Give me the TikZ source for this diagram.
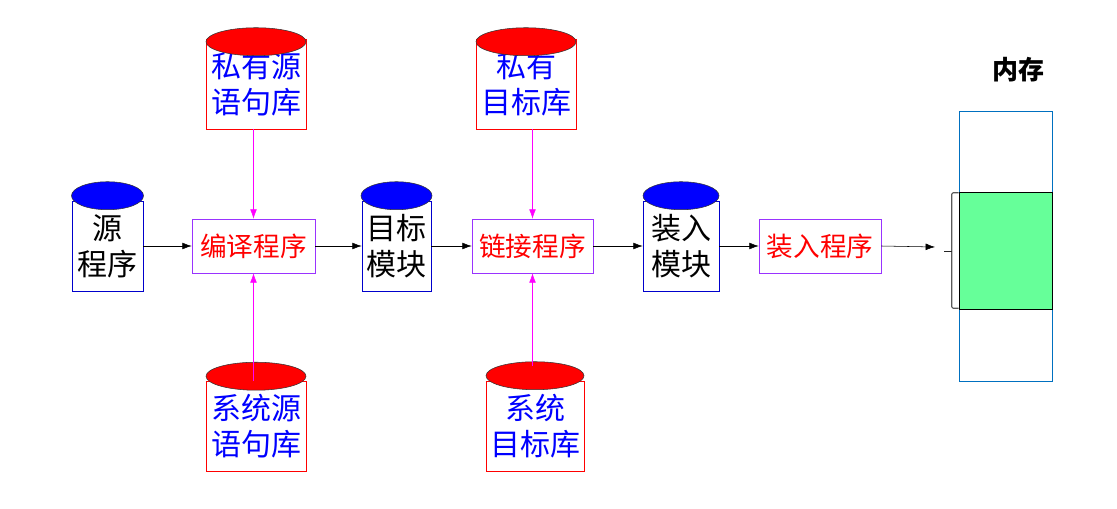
\documentclass[tikz,border=0pt]{standalone}
\usepackage{fontspec}
\setmainfont{Noto Sans CJK SC}
\usetikzlibrary{arrows.meta,calc}
\definecolor{progedge}{HTML}{9933FF}
\definecolor{memedge}{HTML}{0070C0}
\definecolor{memfill}{HTML}{66FF99}
\definecolor{feedpink}{HTML}{FF00FF}
\def\u{0.75pt}
\tikzset{
  drum/.style={draw,minimum height=90*\u,inner sep=0pt,align=center,font=\fontsize{22.5}{27}\selectfont},
  srcdrum/.style={drum,draw=blue!80!black},
  libdrum/.style={drum,draw=red,text=blue},
  progbox/.style={draw=progedge,text=red,minimum height=54*\u,inner sep=0pt,font=\fontsize{20}{24}\selectfont},
  flow/.style={-{Latex[length=7pt,width=5pt]}},
  feed/.style={feedpink,-{Latex[length=7pt,width=5pt]}}
}
\begin{document}
\begin{tikzpicture}[x=\u,y=-\u]
\newcommand{\drumtop}[4]{\draw[#3,draw=gray!40!black,thin] ($(#1.north)+(0,#4)$) ellipse[x radius=#2*\u,y radius=14*\u];}
\useasboundingbox (0,0) rectangle (1117,509);
% main line
\node[srcdrum,minimum width=71*\u] (src) at (107.5,246) {源\\程序};
\node[progbox,minimum width=123*\u] (comp) at (253.5,246) {编译程序};
\node[srcdrum,minimum width=69*\u] (obj) at (396.5,246) {目标\\模块};
\node[progbox,minimum width=121*\u] (lnk) at (532.5,246) {链接程序};
\node[srcdrum,minimum width=76*\u] (ldm) at (681,246) {装入\\模块};
\node[progbox,minimum width=122*\u] (ldr) at (820,246) {装入程序};
\drumtop{src}{36}{fill=blue}{-5}\drumtop{obj}{35.5}{fill=blue}{-5}\drumtop{ldm}{38}{fill=blue}{-5}
% libraries
\node[libdrum,minimum width=100*\u] (privsrc) at (256,84) {私有源\\语句库};
\node[libdrum,minimum width=100*\u] (privobj) at (526,84) {私有\\目标库};
\node[libdrum,minimum width=100*\u] (syssrc) at (256,426.5) {系统源\\语句库};
\node[libdrum,minimum width=98*\u] (sysobj) at (535,426) {系统\\目标库};
\drumtop{privsrc}{50}{fill=red}{3}\drumtop{privobj}{50}{fill=red}{3}\drumtop{syssrc}{50}{fill=red}{-5}\drumtop{sysobj}{49}{fill=red}{-5}
% memory
\node[draw=memedge,minimum width=93*\u,minimum height=270*\u,inner sep=0pt] (mem) at (1005.5,246) {};
\node[draw,fill=memfill,minimum width=93*\u,minimum height=117*\u,inner sep=0pt] (part) at (1005.5,250.5) {};
\node[font=\fontsize{19.5}{22}\selectfont\bfseries] (memlbl) at (1018,70) {内存};
\draw[gray!70!black,thick,rounded corners=1pt] ($(part.north west)+(0,1)$) -- ++(-7,0) -- ($(part.south west)+(-7,-1)$) -- ++(7,0);
\coordinate (tick) at ($(part.west)+(-7,1)$);
\draw[gray!30!black,thick] (tick) -- ++(-8,0);
\coordinate (memin) at (935,247);
% connectors
\draw[flow] (src) -- (comp);\draw[flow] (comp) -- (obj);\draw[flow] (obj) -- (lnk);
\draw[flow] (lnk) -- (ldm);\draw[flow] (ldm) -- (ldr);\draw[flow] (ldr.east) -- (memin);
\draw[feed] (privsrc.south -| comp) -- (comp.north);\draw[feed] (syssrc.north -| comp) -- (comp.south);
\draw[feed] (privobj.south -| lnk) -- (lnk.north);\draw[feed] ($(sysobj.north -| lnk)+(0,-15)$) -- (lnk.south);
\end{tikzpicture}
\end{document}
